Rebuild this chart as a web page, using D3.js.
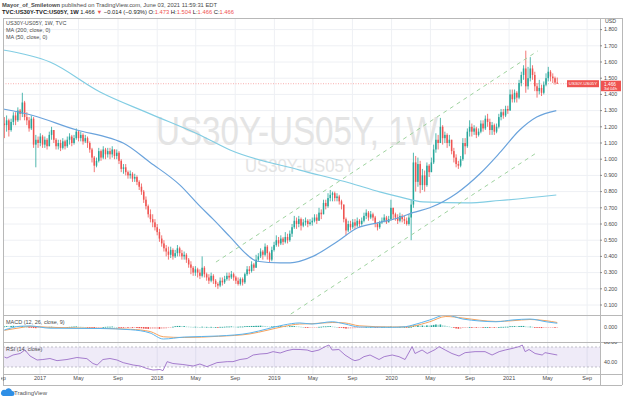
<!DOCTYPE html>
<html><head><meta charset="utf-8">
<script src="https://cdn.jsdelivr.net/npm/d3@7"></script>
<style>body{margin:0;background:#fff}svg{display:block}text{font-family:"Liberation Sans",Arial,sans-serif}</style>
</head><body><svg id="c" width="624" height="400"></svg>
<script>
// ---------- DATA ----------
const lastWeek = "2021-05-31";
const firstOpen = 1.22;
const closes = [
 1.21,1.24,1.18, 1.23,1.27,1.24,1.30,1.28, 1.35,1.26,1.24,1.19, 1.25,1.09,1.12,1.10,
 1.14,1.09,1.12,1.08,1.15, 1.18,1.12,1.08,1.10, 1.07,1.11,1.08,1.12, 1.14,1.10,1.13,1.17,
 1.13,1.15,1.11,1.13,1.10, 1.06,1.01,0.96,0.99, 1.05,1.01,1.06,1.03,1.05, 1.03,1.06,1.02,1.04,
 0.99,0.94,0.95,0.92, 0.90,0.91,0.88,0.89,0.86, 0.83,0.80,0.75,0.71, 0.66,0.63,0.61,0.58,
 0.55,0.51,0.48,0.45,0.43, 0.41,0.44,0.40,0.42, 0.45,0.42,0.40,0.41, 0.38,0.35,0.33,0.30,0.32,
 0.30,0.28,0.33,0.29, 0.27,0.25,0.28,0.25, 0.23,0.22,0.25,0.24,0.26, 0.28,0.27,0.29,0.27,
 0.25,0.23,0.26,0.24, 0.29,0.32,0.31,0.35,0.33, 0.38,0.40,0.43,0.41, 0.46,0.42,0.38,0.44,0.47,
 0.50,0.48,0.51,0.49, 0.52,0.50,0.54,0.58, 0.62,0.60,0.63,0.59, 0.61,0.62,0.60,0.61,0.62,
 0.64,0.62,0.67,0.66, 0.73,0.71,0.76,0.78, 0.79,0.76,0.77,0.74,0.72, 0.63,0.56,0.60,0.58,
 0.61,0.59,0.62,0.60,0.62, 0.65,0.67,0.64,0.66, 0.64,0.60,0.58,0.61, 0.62,0.64,0.61,0.63,0.70,
 0.66,0.64,0.62,0.65, 0.63,0.62,0.60,0.64, 0.72,0.98,0.86,0.97,0.84, 0.90,0.84,0.96,0.92,
 0.98,1.06,1.12,1.10, 1.20,1.13,1.15,1.10,1.12, 1.05,1.01,0.97,0.96, 1.00,1.10,1.08,1.17,1.20,
 1.17,1.19,1.15,1.17, 1.22,1.19,1.25,1.23, 1.18,1.21,1.17,1.20,1.26, 1.29,1.27,1.31,1.30,
 1.40,1.37,1.41,1.38, 1.47,1.52,1.56,1.45, 1.50,1.56,1.52,1.45,1.42, 1.44,1.41,1.46,1.50,
 1.54,1.51,1.50,1.473,1.466];
const highs = [
 1.26,1.27,1.25, 1.25,1.29,1.29,1.32,1.31, 1.41,1.36,1.29,1.26, 1.27,1.26,1.15,1.14,
 1.16,1.15,1.14,1.13,1.17, 1.20,1.18,1.13,1.12, 1.12,1.13,1.12,1.14, 1.16,1.15,1.15,1.19,
 1.18,1.17,1.16,1.15,1.14, 1.11,1.07,1.02,1.01, 1.07,1.06,1.08,1.07,1.07, 1.07,1.08,1.06,1.06,
 1.05,1.00,0.97,0.97, 0.93,0.93,0.92,0.91,0.90, 0.87,0.85,0.81,0.77, 0.72,0.69,0.66,0.63,
 0.60,0.57,0.53,0.50,0.47, 0.46,0.46,0.45,0.44, 0.47,0.46,0.44,0.43, 0.42,0.39,0.37,0.34,0.34,
 0.33,0.32,0.40,0.34, 0.30,0.29,0.30,0.29, 0.26,0.24,0.27,0.27,0.28, 0.30,0.30,0.31,0.30,
 0.28,0.27,0.27,0.27, 0.30,0.34,0.34,0.37,0.36, 0.41,0.42,0.45,0.44, 0.48,0.47,0.43,0.46,0.49,
 0.53,0.52,0.53,0.52, 0.55,0.54,0.56,0.60, 0.65,0.64,0.65,0.64, 0.63,0.64,0.63,0.63,0.64,
 0.66,0.66,0.70,0.69, 0.75,0.75,0.79,0.81, 0.80,0.80,0.79,0.78,0.75, 0.71,0.64,0.62,0.62,
 0.63,0.63,0.64,0.63,0.64, 0.67,0.69,0.68,0.68, 0.67,0.65,0.61,0.62, 0.64,0.66,0.65,0.65,0.75,
 0.69,0.67,0.66,0.67, 0.66,0.65,0.64,0.66, 0.75,1.04,1.02,1.01,0.99, 0.94,0.93,0.98,0.97,
 1.01,1.09,1.16,1.15, 1.255,1.21,1.17,1.16,1.15, 1.11,1.07,1.03,0.99, 1.02,1.13,1.13,1.19,1.24,
 1.22,1.21,1.20,1.19, 1.24,1.24,1.27,1.28, 1.25,1.23,1.22,1.22,1.28, 1.31,1.31,1.33,1.33,
 1.43,1.43,1.43,1.42, 1.49,1.54,1.58,1.67, 1.57,1.63,1.58,1.54,1.47, 1.49,1.46,1.48,1.53,
 1.57,1.55,1.53,1.51,1.504];
const lows = [
 1.13,1.17,1.14, 1.17,1.21,1.21,1.23,1.24, 1.26,1.24,1.21,1.17, 1.18,1.07,0.95,1.07,
 1.08,1.07,1.07,1.06,1.08, 1.12,1.10,1.06,1.06, 1.05,1.06,1.06,1.07, 1.09,1.08,1.09,1.12,
 1.11,1.11,1.09,1.10,1.07, 1.04,0.98,0.92,0.95, 0.98,0.99,1.00,1.00,1.01, 1.00,1.01,1.00,1.00,
 0.97,0.92,0.91,0.90, 0.88,0.88,0.86,0.86,0.84, 0.81,0.78,0.73,0.69, 0.64,0.61,0.58,0.56,
 0.53,0.49,0.46,0.43,0.40, 0.38,0.39,0.38,0.39, 0.40,0.40,0.38,0.38, 0.36,0.33,0.29,0.28,0.28,
 0.27,0.26,0.27,0.27, 0.25,0.23,0.24,0.23, 0.21,0.20,0.21,0.22,0.23, 0.25,0.25,0.26,0.25,
 0.23,0.22,0.22,0.22, 0.23,0.28,0.29,0.30,0.31, 0.33,0.37,0.39,0.38, 0.40,0.38,0.36,0.37,0.43,
 0.46,0.46,0.47,0.47, 0.48,0.48,0.49,0.52, 0.57,0.57,0.58,0.56, 0.58,0.59,0.58,0.59,0.59,
 0.61,0.60,0.62,0.63, 0.66,0.69,0.70,0.74, 0.74,0.74,0.74,0.72,0.69, 0.61,0.53,0.55,0.56,
 0.57,0.57,0.58,0.58,0.59, 0.61,0.63,0.62,0.63, 0.62,0.58,0.56,0.57, 0.60,0.61,0.60,0.61,0.62,
 0.63,0.62,0.60,0.61, 0.61,0.60,0.59,0.59, 0.50,0.70,0.80,0.83,0.79, 0.81,0.80,0.83,0.89,
 0.92,0.97,1.04,1.06, 1.10,1.09,1.10,1.07,1.08, 1.03,0.98,0.95,0.94, 0.95,0.99,1.03,1.07,1.14,
 1.14,1.15,1.13,1.14, 1.16,1.17,1.18,1.20, 1.15,1.15,1.15,1.16,1.19, 1.24,1.25,1.26,1.28,
 1.30,1.35,1.35,1.35, 1.37,1.45,1.49,1.41, 1.43,1.48,1.49,1.42,1.38, 1.40,1.39,1.40,1.45,
 1.48,1.48,1.47,1.46,1.466];
// MACD histogram, weekly, in thousandths
const macdHist = [
 4,6,5, 7,8,6,5,4, 6,3,1,-2, -3,-7,-8,-6,
 -4,-3,-2,-1,1, 2,1,-1,-2, -3,-2,-1,0, 1,2,3,4, 3,2,1,0,-1, -3,-5,-7,-6, -4,-2,0,1,2, 2,3,1,0,
 -2,-4,-5,-4, -5,-5,-6,-6,-7, -8,-9,-11,-12, -13,-13,-12,-12,
 -12,-13,-12,-11,-10, -6,-2,2,5, 7,7,6,6, 4,3,2,1,2, 1,0,2,1, 1,0,1,0, 0,-1,1,1,2, 3,3,4,3,
 2,2,3,3, 5,6,6,7,7, 8,8,9,8, 7,5,3,4,5,
 6,6,6,5, 5,4,5,6, 6,5,4,2, 0,-1,-2,-2,-2, -1,-1,1,2, 4,4,5,6, 4,2,0,-2,-4, -8,-11,-11,-10,
 -9,-8,-6,-4,-3, -1,1,0,1, 0,-1,-2,-1, 0,1,0,1,3,
 2,1,0,1, 0,0,-1,0, 1,10,9,12,9, 10,8,11,10, 11,14,17,15, 17,12,10,6,4, 0,-5,-10,-12, -12,-7,-6,-2,0,
 -1,-1,-3,-3, -1,-2,0,0, -3,-3,-4,-2,0, 1,1,2,2,
 5,5,6,5, 6,7,7,4, 3,3,2,-1,-3, -5,-7,-6,-5, -3,-3,-3,-4,-4];
const ma200Dates = ["2016-09-08","2017-02-01","2017-07-07","2017-12-10","2018-05-14","2018-08-16","2019-03-21","2019-08-24","2019-11-25","2020-01-26","2020-04-08","2020-08-23","2020-12-03","2021-05-28"];
const ma200Values = [1.674,1.60,1.415,1.28,1.149,1.057,0.933,0.853,0.798,0.767,0.736,0.730,0.745,0.779];
const ma50Dates = ["2016-09-08","2016-12-10","2017-04-26","2017-08-07","2017-09-17","2017-12-10","2018-03-13","2018-05-14","2018-06-24","2018-08-16","2018-10-08","2018-11-08","2019-01-19","2019-02-19","2019-05-01","2019-07-15","2019-09-16","2019-11-26","2020-01-26","2020-03-07","2020-04-29","2020-07-22","2020-10-02","2020-12-03","2021-02-03","2021-03-28","2021-05-28"];
const ma50Values = [1.31,1.27,1.18,1.13,1.10,0.98,0.84,0.71,0.63,0.52,0.41,0.37,0.36,0.36,0.40,0.49,0.575,0.61,0.64,0.67,0.70,0.79,0.91,1.04,1.18,1.26,1.30];
const macdDates = ["2016-09-12","2016-10-31","2016-12-01","2017-02-01","2017-07-07","2017-10-10","2017-12-10","2018-01-20","2018-03-26","2018-07-11","2018-10-17","2018-12-09","2019-01-29","2019-03-21","2019-04-28","2019-06-30","2019-08-09","2019-09-22","2020-01-04","2020-02-13","2020-03-07","2020-04-29","2020-06-18","2020-08-10","2020-10-02","2020-11-21","2021-01-13","2021-03-07","2021-04-26","2021-05-31"];
const macdLine = [-0.02,0.005,0.007,-0.008,-0.01,-0.018,-0.04,-0.08,-0.067,-0.06,-0.04,-0.013,0.013,0.027,0.02,0.035,0.02,0,-0.002,0.002,0.013,0.047,0.08,0.053,0.04,0.035,0.047,0.053,0.035,0.025];
const signalLine = [-0.022,-0.005,0.004,-0.002,-0.009,-0.015,-0.03,-0.065,-0.07,-0.062,-0.046,-0.022,0.003,0.02,0.022,0.03,0.027,0.008,0,0.001,0.006,0.035,0.07,0.06,0.045,0.037,0.042,0.05,0.042,0.03];
const rsiDates = ["2016-09-12","2016-09-20","2016-10-09","2016-10-31","2016-11-15","2016-12-01","2016-12-23","2017-01-10","2017-02-01","2017-02-23","2017-03-26","2017-04-26","2017-05-27","2017-06-15","2017-06-28","2017-07-16","2017-08-07","2017-08-29","2017-09-17","2017-10-18","2017-11-09","2017-11-30","2017-12-19","2018-01-10","2018-01-19","2018-02-01","2018-02-19","2018-03-22","2018-04-23","2018-05-14","2018-06-05","2018-07-06","2018-08-07","2018-08-25","2018-09-16","2018-10-08","2018-10-27","2018-11-17","2018-12-09","2018-12-28","2019-01-19","2019-02-09","2019-02-28","2019-03-22","2019-04-13","2019-04-28","2019-05-20","2019-06-08","2019-06-20","2019-06-30","2019-07-21","2019-08-09","2019-08-31","2019-09-09","2019-09-22","2019-10-07","2019-10-26","2019-11-23","2019-12-09","2020-01-03","2020-01-24","2020-02-12","2020-03-05","2020-03-14","2020-04-05","2020-04-21","2020-05-16","2020-05-28","2020-06-16","2020-07-07","2020-07-29","2020-08-17","2020-09-17","2020-10-18","2020-11-09","2020-12-01","2020-12-20","2021-01-10","2021-02-01","2021-02-11","2021-02-20","2021-03-04","2021-03-23","2021-04-14","2021-04-23","2021-05-31"];
const rsiValues = [50,48,54,57,64,52,44,45,47,42.7,45,49,46.7,37,34,45,47,44,38.7,34,32,27,24,25,22.7,40.7,37,35,32,36,30.7,38.7,40.7,40.7,45,47,54,56,57,60.7,58,62.7,65.3,65,64,60.7,64,70.7,74,64,65,54,45,42.7,44.7,50.7,54,45,50.7,54,50.7,45,70.7,57,64,57,65,70.7,64,57,52,58.7,60.7,60.7,54,60.7,64,67,70.7,74,60.7,65,57,54,58.7,54];
const upperChannel = [["2018-07-03",0.365],["2021-03-31",1.668]];
const lowerChannel = [["2019-02-21",0.044],["2021-03-31",1.044]];
const priceTicks = [0.1,0.2,0.3,0.4,0.5,0.6,0.7,0.8,0.9,1.0,1.1,1.2,1.3,1.4,1.5,1.6,1.7,1.8];
const xTickDates = ["2016-09-01","2017-01-01","2017-05-01","2017-09-01","2018-01-01","2018-05-01","2018-09-01","2019-01-01","2019-05-01","2019-09-01","2020-01-01","2020-05-01","2020-09-01","2021-01-01","2021-05-01","2021-09-01"];
const xTickLabels = ["Sep","2017","May","Sep","2018","May","Sep","2019","May","Sep","2020","May","Sep","2021","May","Sep"];
const lastPrice = 1.466;

// ---------- LAYOUT ----------
const L = 3, R = 600, RR = 622;
const mainTop = 18, mainBot = 315, macdBot = 342, rsiBot = 374, axisBot = 385;
const P = d3.utcParse("%Y-%m-%d");
const x = d3.scaleUtc().domain([P("2017-01-01"), P("2021-01-01")]).range([40, 509.1]);
const y = d3.scaleLinear().domain([0.1, 1.7]).range([305, 45.8]);
const yM = d3.scaleLinear().domain([0, 0.08]).range([327, 315]);
const yR = d3.scaleLinear().domain([30, 70]).range([367, 347]);

const svg = d3.select("#c");
const defs = svg.append("defs");
function clip(id, x0, y0, x1, y1) {
  defs.append("clipPath").attr("id", id).append("rect")
    .attr("x", x0).attr("y", y0).attr("width", x1 - x0).attr("height", y1 - y0);
}
clip("cMain", L, mainTop, R, mainBot);
clip("cMacd", L, mainBot, R, macdBot);
clip("cRsi", L, macdBot, R, rsiBot);
clip("cRsiAx", R, macdBot, RR, rsiBot);
clip("cXAx", 1, rsiBot, R, axisBot);

const dates = closes.map((_, i) => d3.utcDay.offset(P(lastWeek), -7 * (closes.length - 1 - i)));
const opens = closes.map((c, i) => i === 0 ? firstOpen : closes[i - 1]);
const UP = "#26a69a", DN = "#ef5350";
const gridC = "#eef0f4", borderC = "#b8b8b8", txtC = "#4a4a4a";

// ---------- HEADER ----------
const h1 = svg.append("text").attr("x", 2).attr("y", 7).attr("font-size", 5.8).attr("fill", txtC);
h1.append("tspan").attr("font-weight", "bold").text("Mayor_of_Smiletown");
h1.append("tspan").text(" published on TradingView.com, June 03, 2021 11:59:31 EDT");
const h2 = svg.append("text").attr("x", 2).attr("y", 14).attr("font-size", 5.8).attr("fill", "#222");
h2.append("tspan").attr("font-weight", "bold").text("TVC:US30Y-TVC:US05Y, 1W");
h2.append("tspan").text(" 1.466 ");
h2.append("tspan").attr("fill", DN).text("▼");
h2.append("tspan").text(" −0.014 (−0.93%) O:");
h2.append("tspan").attr("fill", DN).text("1.473");
h2.append("tspan").text(" H:");
h2.append("tspan").attr("fill", DN).text("1.504");
h2.append("tspan").text(" L:");
h2.append("tspan").attr("fill", DN).text("1.466");
h2.append("tspan").text(" C:");
h2.append("tspan").attr("fill", DN).text("1.466");

// ---------- GRID ----------
const g = svg.append("g");
xTickDates.forEach(d => {
  const xx = x(P(d));
  if (xx > L && xx < R) g.append("line").attr("x1", xx).attr("x2", xx).attr("y1", mainTop).attr("y2", rsiBot).attr("stroke", gridC);
});
const gm = svg.append("g").attr("clip-path", "url(#cMain)");
priceTicks.forEach(v => gm.append("line").attr("x1", L).attr("x2", R).attr("y1", y(v)).attr("y2", y(v)).attr("stroke", gridC));

// watermark
gm.append("text").attr("x", 297).attr("y", 145).attr("text-anchor", "middle").attr("font-size", 40)
  .attr("textLength", 282).attr("lengthAdjust", "spacingAndGlyphs").attr("fill", "#e4e4e4").text("US30Y-US05Y, 1W");
gm.append("text").attr("x", 300).attr("y", 172).attr("text-anchor", "middle").attr("font-size", 18)
  .attr("textLength", 110).attr("lengthAdjust", "spacingAndGlyphs").attr("fill", "#e4e4e4").text("US30Y-US05Y");

// current price line
gm.append("line").attr("x1", L).attr("x2", R).attr("y1", y(lastPrice)).attr("y2", y(lastPrice))
  .attr("stroke", DN).attr("stroke-opacity", 0.45).attr("stroke-dasharray", "1,1.5");

// candles
const bw = 1.5;
closes.forEach((c, i) => {
  const o = opens[i], xx = x(dates[i]);
  const col = c >= o ? UP : DN;
  const hi = Math.max(highs[i], o, c), lo = Math.min(lows[i], o, c);
  gm.append("line").attr("x1", xx).attr("x2", xx).attr("y1", y(hi)).attr("y2", y(lo)).attr("stroke", col).attr("stroke-width", 0.8);
  const top = y(Math.max(o, c)), bot = y(Math.min(o, c));
  gm.append("rect").attr("x", xx - bw / 2).attr("y", top).attr("width", bw).attr("height", Math.max(0.8, bot - top)).attr("fill", col);
});

// moving averages
const lineGen = d3.line().x(d => x(P(d[0]))).y(d => y(d[1])).curve(d3.curveMonotoneX);
gm.append("path").attr("d", lineGen(d3.zip(ma200Dates, ma200Values))).attr("fill", "none").attr("stroke", "#82cde3").attr("stroke-width", 1.2);
gm.append("path").attr("d", lineGen(d3.zip(ma50Dates, ma50Values))).attr("fill", "none").attr("stroke", "#6aa3dc").attr("stroke-width", 1.2);

// channel
const chGen = d3.line().x(d => x(P(d[0]))).y(d => y(d[1]));
[upperChannel, lowerChannel].forEach(ch => gm.append("path").attr("d", chGen(ch)).attr("fill", "none")
  .attr("stroke", "#9fd39f").attr("stroke-width", 1).attr("stroke-dasharray", "4,4"));

// legend
const lg = svg.append("g").attr("font-size", 5.5).attr("fill", txtC);
lg.append("text").attr("x", 6).attr("y", 25).text("US30Y-US05Y, 1W, TVC");
lg.append("text").attr("x", 6).attr("y", 32).text("MA (200, close, 0)");
lg.append("text").attr("x", 6).attr("y", 39).text("MA (50, close, 0)");

// ---------- MACD ----------
const gM = svg.append("g").attr("clip-path", "url(#cMacd)");
macdHist.forEach((h, i) => {
  if (i >= dates.length) return;
  const prev = i > 0 ? macdHist[i - 1] : h;
  const col = h >= 0 ? (h >= prev ? "#26a69a" : "#a8dcd6") : (h < prev ? "#ef5350" : "#f6b8b8");
  const xx = x(dates[i]);
  const y0 = yM(0), y1 = yM(h / 1000);
  gM.append("rect").attr("x", xx - 0.8).attr("width", 1.6).attr("y", Math.min(y0, y1)).attr("height", Math.max(0.8, Math.abs(y1 - y0))).attr("fill", col);
});
const mGen = d3.line().x(d => x(P(d[0]))).y(d => yM(d[1])).curve(d3.curveMonotoneX);
gM.append("path").attr("d", mGen(d3.zip(macdDates, signalLine))).attr("fill", "none").attr("stroke", "#f5a25d").attr("stroke-width", 1);
gM.append("path").attr("d", mGen(d3.zip(macdDates, macdLine))).attr("fill", "none").attr("stroke", "#5ab4ee").attr("stroke-width", 1);
svg.append("text").attr("x", 6).attr("y", 324).attr("font-size", 5.5).attr("fill", txtC).text("MACD (12, 26, close, 9)");

// ---------- RSI ----------
const gR = svg.append("g").attr("clip-path", "url(#cRsi)");
gR.append("rect").attr("x", L).attr("width", R - L).attr("y", yR(70)).attr("height", yR(30) - yR(70)).attr("fill", "#7e57c2").attr("fill-opacity", 0.12);
[70, 30].forEach(v => gR.append("line").attr("x1", L).attr("x2", R).attr("y1", yR(v)).attr("y2", yR(v)).attr("stroke", "#9a9aa8").attr("stroke-dasharray", "2,2").attr("stroke-width", 0.6));
const rGen = d3.line().x(d => x(P(d[0]))).y(d => yR(d[1]));
gR.append("path").attr("d", rGen(d3.zip(rsiDates, rsiValues))).attr("fill", "none").attr("stroke", "#9c6fc8").attr("stroke-width", 0.9);
svg.append("text").attr("x", 6).attr("y", 351).attr("font-size", 5.5).attr("fill", txtC).text("RSI (14, close)");

// ---------- BORDERS ----------
const b = svg.append("g").attr("stroke", borderC).attr("stroke-width", 1).attr("shape-rendering", "crispEdges");
[mainTop, mainBot, macdBot, rsiBot, axisBot].forEach(yy => b.append("line").attr("x1", L).attr("x2", RR).attr("y1", yy + 0.5).attr("y2", yy + 0.5));
[L, R, RR].forEach(xx => b.append("line").attr("x1", xx + 0.5).attr("x2", xx + 0.5).attr("y1", mainTop).attr("y2", axisBot));

// ---------- AXES ----------
const ax = svg.append("g").attr("font-size", 5.3).attr("fill", txtC);
priceTicks.forEach(v => {
  ax.append("line").attr("x1", R).attr("x2", R + 2).attr("y1", y(v)).attr("y2", y(v)).attr("stroke", "#888");
  ax.append("text").attr("x", R + 4).attr("y", y(v)).attr("dy", "0.35em").text(d3.format(".3f")(v));
});
ax.append("text").attr("x", R + 5).attr("y", 23).text("USD");
ax.append("text").attr("x", R + 4).attr("y", yM(0)).attr("dy", "0.35em").text("0.000");
const rax = svg.append("g").attr("clip-path", "url(#cRsiAx)").attr("font-size", 5.3).attr("fill", txtC);
[80, 40].forEach(v => rax.append("text").attr("x", R + 4).attr("y", yR(v)).attr("dy", "0.35em").text(d3.format(".2f")(v)));
const xa = svg.append("g").attr("clip-path", "url(#cXAx)").attr("font-size", 5.5).attr("fill", txtC);
xTickDates.forEach((d, i) => xa.append("text").attr("x", x(P(d))).attr("y", 380).attr("text-anchor", "middle").text(xTickLabels[i]));

// price labels
const py = y(lastPrice);
svg.append("rect").attr("x", 567).attr("y", py - 3.5).attr("width", 32).attr("height", 7).attr("fill", DN);
svg.append("text").attr("x", 583).attr("y", py + 1.6).attr("text-anchor", "middle").attr("font-size", 4.3).attr("fill", "#fff").text("US30Y-US05Y");
svg.append("rect").attr("x", R + 1).attr("y", py - 3).attr("width", 20).attr("height", 10.5).attr("fill", DN);
svg.append("text").attr("x", R + 4).attr("y", py + 1.8).attr("font-size", 4.8).attr("fill", "#fff").text("1.466");
svg.append("text").attr("x", R + 4).attr("y", py + 6.3).attr("font-size", 4.3).attr("fill", "#fff").text("3d 04h");

// footer logo
const lo = svg.append("g");
lo.append("path").attr("d", "M3,396 h9 a2.5,2.5 0 0 0 0,-5 a3.5,3.5 0 0 0 -6.5,-1 a2.6,2.6 0 0 0 -2.5,6z").attr("fill", "#2e8fe6");
lo.append("text").attr("x", 14).attr("y", 395).attr("font-size", 6).attr("fill", "#555").text("TradingView");
</script></body></html>
